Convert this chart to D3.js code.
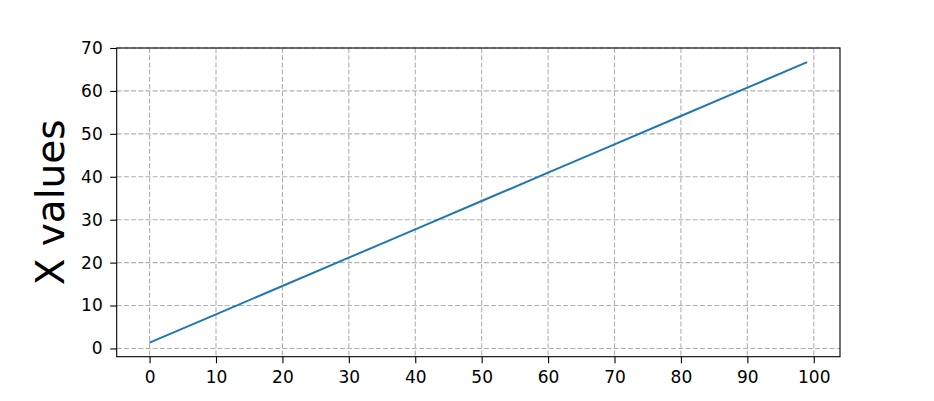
<!DOCTYPE html>
<html>
<head>
<meta charset="utf-8">
<script src="https://cdn.jsdelivr.net/npm/d3@7"></script>
<style>
  body { margin: 0; background: #fff; }
  svg { display: block; font-family: "DejaVu Sans", sans-serif; }
</style>
</head>
<body>
<div id="chart"></div>
<script>
// values (straight line)
const xValues = [0, 10, 20, 30, 40, 50, 60, 70, 80, 90, 99];
const yValues = [1.35, 7.95, 14.55, 21.15, 27.75, 34.35, 40.95, 47.55, 54.15, 60.75, 66.7];
const xTicks = [0, 10, 20, 30, 40, 50, 60, 70, 80, 90, 100];
const yTicks = [0, 10, 20, 30, 40, 50, 60, 70];
const yLabel = "X values";

const width = 934, height = 401;
const margin = {top: 48, right: 94, bottom: 44.3, left: 116.7};
const w = width - margin.left - margin.right;
const h = height - margin.top - margin.bottom;

const svg = d3.select("#chart").append("svg")
  .attr("width", width)
  .attr("height", height);

const g = svg.append("g")
  .attr("transform", `translate(${margin.left},${margin.top})`);

const x = d3.scaleLinear().domain([-4.95, 103.95]).range([0, w]);
const y = d3.scaleLinear().domain([-1.92, 70.0]).range([h, 0]);

// grid
g.append("g").selectAll("line").data(xTicks).join("line")
  .attr("x1", d => x(d)).attr("x2", d => x(d))
  .attr("y1", 0).attr("y2", h)
  .attr("stroke", "#b0b0b0").attr("stroke-width", 1.1)
  .attr("stroke-dasharray", "5,2.2");
g.append("g").selectAll("line").data(yTicks).join("line")
  .attr("x1", 0).attr("x2", w)
  .attr("y1", d => y(d)).attr("y2", d => y(d))
  .attr("stroke", "#b0b0b0").attr("stroke-width", 1.1)
  .attr("stroke-dasharray", "5,2.2");

// line
const pts = xValues.map((v, i) => [v, yValues[i]]);
g.append("path")
  .datum(pts)
  .attr("fill", "none")
  .attr("stroke", "#1f77b4")
  .attr("stroke-width", 2)
  .attr("d", d3.line().x(d => x(d[0])).y(d => y(d[1])));

// axes
const xAxis = g.append("g")
  .attr("transform", `translate(0,${h})`)
  .call(d3.axisBottom(x).tickValues(xTicks).tickSize(6.5).tickPadding(8).tickSizeOuter(0));
const yAxis = g.append("g")
  .call(d3.axisLeft(y).tickValues(yTicks).tickSize(6.5).tickPadding(7.5).tickSizeOuter(0));

[xAxis, yAxis].forEach(a => {
  a.select(".domain").remove();
  a.selectAll(".tick line").attr("stroke", "#000").attr("stroke-width", 1.1);
  a.selectAll(".tick text").attr("fill", "#000")
    .style("font-family", "DejaVu Sans").style("font-size", "17px");
});

// frame
g.append("rect")
  .attr("width", w).attr("height", h)
  .attr("fill", "none").attr("stroke", "#000").attr("stroke-width", 1.1);

// y label
svg.append("text")
  .attr("transform", `translate(64,${margin.top + h / 2}) rotate(-90)`)
  .attr("text-anchor", "middle")
  .style("font-size", "39px")
  .text(yLabel);
</script>
</body>
</html>
